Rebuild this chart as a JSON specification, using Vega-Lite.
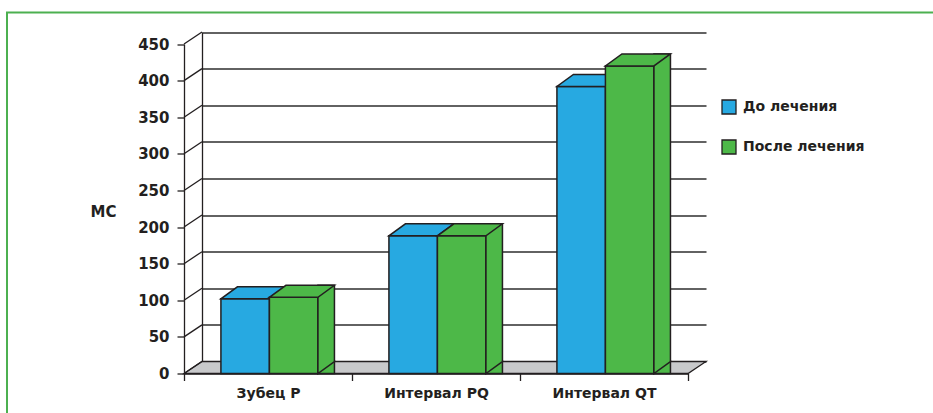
{
  "$schema": "https://vega.github.io/schema/vega-lite/v6.json",
  "width": 929,
  "height": 403.5,
  "autosize": "none",
  "padding": {"left": 7, "top": 12.5, "right": -3, "bottom": -3},
  "background": "white",
  "config": {
    "view": {"stroke": "#4cb050", "strokeWidth": 2},
    "font": "DejaVu Sans"
  },
  "datasets": {
    "bars": [
      {"measure": "Зубец P", "phase": "До лечения", "ms": 102},
      {"measure": "Зубец P", "phase": "После лечения", "ms": 104},
      {"measure": "Интервал PQ", "phase": "До лечения", "ms": 188},
      {"measure": "Интервал PQ", "phase": "После лечения", "ms": 188},
      {"measure": "Интервал QT", "phase": "До лечения", "ms": 392},
      {"measure": "Интервал QT", "phase": "После лечения", "ms": 420}
    ],
    "ticks": [
      {"ms": 0}, {"ms": 50}, {"ms": 100}, {"ms": 150}, {"ms": 200},
      {"ms": 250}, {"ms": 300}, {"ms": 350}, {"ms": 400}, {"ms": 450}
    ]
  },
  "resolve": {"scale": {"x": "independent", "y": "independent"}},
  "layer": [
    {
      "encoding": {
        "x": {
          "datum": "Зубец P",
          "type": "nominal",
          "scale": {"type": "band", "domain": ["Зубец P", "Интервал PQ", "Интервал QT"], "range": [195, 699], "paddingInner": 0, "paddingOuter": 0},
          "axis": null
        },
        "y": {
          "field": "ms",
          "type": "quantitative",
          "scale": {"domain": [0, 450], "range": [349, 19.5], "nice": false},
          "axis": {
            "orient": "left",
            "offset": -195,
            "values": [0, 50, 100, 150, 200, 250, 300, 350, 400, 450],
            "grid": true,
            "gridColor": "#2e2e2e",
            "gridWidth": 1.3,
            "ticks": false,
            "labels": false,
            "domain": true,
            "domainColor": "#231f20",
            "domainWidth": 1.3,
            "title": null,
            "zindex": 0
          }
        }
      },
      "layer": [
        {
          "data": {"values": [{"ms": 0}]},
          "mark": {
            "type": "point",
            "shape": "M -84 0 L 420 0 L 402 12 L -102 12 Z",
            "size": 4,
            "filled": true,
            "fill": "#c8c9cb",
            "stroke": "#231f20",
            "strokeWidth": 1.3,
            "opacity": 1
          }
        },
        {
          "data": {"name": "ticks"},
          "mark": {
            "type": "point",
            "shape": "M -84 0 L -102 12",
            "size": 4,
            "filled": false,
            "stroke": "#231f20",
            "strokeWidth": 1.3,
            "opacity": 1
          }
        }
      ]
    },
    {
      "data": {"name": "bars"},
      "encoding": {
        "x": {
          "field": "measure",
          "type": "nominal",
          "sort": ["Зубец P", "Интервал PQ", "Интервал QT"],
          "scale": {"type": "band", "domain": ["Зубец P", "Интервал PQ", "Интервал QT"], "range": [177, 681], "paddingInner": 0, "paddingOuter": 0},
          "axis": {
            "orient": "bottom",
            "offset": -42.5,
            "tickBand": "extent",
            "tickSize": 7,
            "tickColor": "#231f20",
            "tickWidth": 1.3,
            "domainColor": "#231f20",
            "domainWidth": 1.3,
            "labelAngle": 0,
            "labelFont": "DejaVu Sans",
            "labelFontSize": 14,
            "labelFontWeight": "bold",
            "labelColor": "#231f20",
            "labelPadding": 6,
            "title": null,
            "zindex": 1
          }
        },
        "y": {
          "field": "ms",
          "type": "quantitative",
          "stack": null,
          "scale": {"domain": [0, 450], "range": [361, 31.5], "nice": false},
          "axis": {
            "orient": "left",
            "offset": -177,
            "values": [0, 50, 100, 150, 200, 250, 300, 350, 400, 450],
            "grid": false,
            "domain": true,
            "domainColor": "#231f20",
            "domainWidth": 1.3,
            "tickSize": 7,
            "tickColor": "#231f20",
            "tickWidth": 1.3,
            "labelFont": "DejaVu Sans",
            "labelFontSize": 15,
            "labelFontWeight": "bold",
            "labelColor": "#231f20",
            "labelPadding": 8,
            "title": "МС",
            "titleFont": "DejaVu Sans",
            "titleFontSize": 15,
            "titleFontWeight": "bold",
            "titleColor": "#231f20",
            "titleAngle": 0,
            "titleAlign": "center",
            "titleBaseline": "middle",
            "titleX": -81,
            "titleY": 198.5,
            "zindex": 1
          }
        },
        "color": {
          "field": "phase",
          "type": "nominal",
          "scale": {"domain": ["До лечения", "После лечения"], "range": ["#27a9e1", "#4db848"]},
          "legend": {
            "orient": "none",
            "legendX": 714,
            "legendY": 86.5,
            "title": null,
            "padding": 0,
            "symbolType": "square",
            "symbolSize": 196,
            "symbolStrokeColor": "#231f20",
            "symbolStrokeWidth": 1.3,
            "symbolOpacity": 1,
            "labelFont": "DejaVu Sans",
            "labelFontSize": 14,
            "labelFontWeight": "bold",
            "labelColor": "#231f20",
            "labelOffset": 6,
            "rowPadding": 20
          }
        }
      },
      "layer": [
        {
          "transform": [{"filter": "datum.phase === 'До лечения'"}],
          "mark": {"type": "bar", "stroke": "#231f20", "strokeWidth": 1.5},
          "encoding": {
            "xOffset": {"field": "phase", "type": "nominal", "scale": {"domain": ["До лечения", "После лечения"], "paddingInner": 0, "paddingOuter": 0.732, "align": 0.52}}
          }
        },
        {
          "transform": [{"filter": "datum.phase === 'До лечения'"}],
          "mark": {
            "type": "point",
            "shape": "M -24.25 0 L 24.25 0 L 40.75 -12 L -7.75 -12 Z",
            "size": 4,
            "filled": true,
            "opacity": 1,
            "stroke": "#231f20",
            "strokeWidth": 1.5
          },
          "encoding": {
            "xOffset": {"field": "phase", "type": "nominal", "scale": {"domain": ["До лечения", "После лечения"], "paddingInner": 0, "paddingOuter": 0.732, "align": 0.52}}
          }
        },
        {
          "transform": [{"filter": "datum.phase === 'После лечения'"}],
          "mark": {"type": "bar", "stroke": "#231f20", "strokeWidth": 1.5},
          "encoding": {
            "xOffset": {"field": "phase", "type": "nominal", "scale": {"domain": ["До лечения", "После лечения"], "paddingInner": 0, "paddingOuter": 0.732, "align": 0.52}}
          }
        },
        {
          "transform": [{"filter": "datum.phase === 'После лечения'"}],
          "mark": {
            "type": "bar",
            "width": 16.5,
            "xOffset": 58.2,
            "yOffset": -12,
            "y2Offset": -12,
            "stroke": "#231f20",
            "strokeWidth": 1.5
          }
        },
        {
          "transform": [{"filter": "datum.phase === 'После лечения'"}],
          "mark": {
            "type": "point",
            "shape": "M 40.75 -13.5 L 40.75 -12 L 24.25 0 L 24.25 -13.5",
            "size": 4,
            "filled": true,
            "opacity": 1,
            "stroke": "#231f20",
            "strokeWidth": 1.5
          },
          "encoding": {
            "xOffset": {"field": "phase", "type": "nominal", "scale": {"domain": ["До лечения", "После лечения"], "paddingInner": 0, "paddingOuter": 0.732, "align": 0.52}},
            "y": {
              "datum": 0,
              "type": "quantitative",
              "stack": null,
              "scale": {"domain": [0, 450], "range": [361, 31.5], "nice": false},
              "axis": {
                "orient": "left",
                "offset": -177,
                "values": [0, 50, 100, 150, 200, 250, 300, 350, 400, 450],
                "grid": false,
                "domain": true,
                "domainColor": "#231f20",
                "domainWidth": 1.3,
                "tickSize": 7,
                "tickColor": "#231f20",
                "tickWidth": 1.3,
                "labelFont": "DejaVu Sans",
                "labelFontSize": 15,
                "labelFontWeight": "bold",
                "labelColor": "#231f20",
                "labelPadding": 8,
                "title": "МС",
                "titleFont": "DejaVu Sans",
                "titleFontSize": 15,
                "titleFontWeight": "bold",
                "titleColor": "#231f20",
                "titleAngle": 0,
                "titleAlign": "center",
                "titleBaseline": "middle",
                "titleX": -81,
                "titleY": 198.5,
                "zindex": 1
              }
            }
          }
        },
        {
          "transform": [{"filter": "datum.phase === 'После лечения'"}],
          "mark": {
            "type": "point",
            "shape": "M -24.25 0 L 24.25 0 L 40.75 -12 L -7.75 -12 Z",
            "size": 4,
            "filled": true,
            "opacity": 1,
            "stroke": "#231f20",
            "strokeWidth": 1.5
          },
          "encoding": {
            "xOffset": {"field": "phase", "type": "nominal", "scale": {"domain": ["До лечения", "После лечения"], "paddingInner": 0, "paddingOuter": 0.732, "align": 0.52}}
          }
        }
      ]
    }
  ]
}
